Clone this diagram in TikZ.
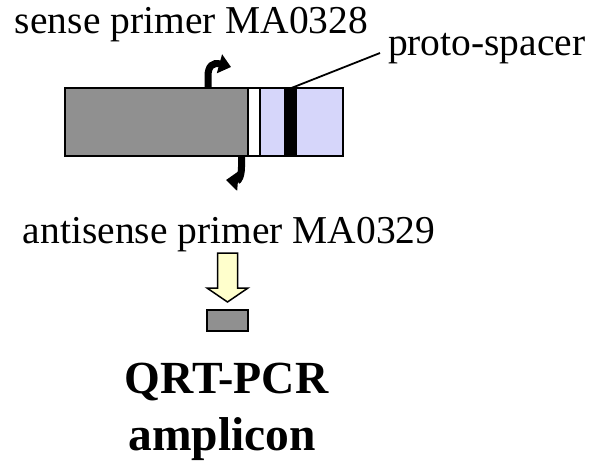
\documentclass[tikz,border=0pt]{standalone}
\usepackage{fontspec}
\setmainfont{Liberation Serif}
\usetikzlibrary{arrows.meta}
\definecolor{barGray}{HTML}{909090}
\definecolor{barBlue}{HTML}{D6D6FA}
\definecolor{arrYellow}{HTML}{FFFFCC}
\tikzset{
  seg/.style={draw=black, line width=1.5pt, inner sep=0pt, outer sep=0pt, minimum height=68pt},
  lbl/.style={inner sep=0pt, outer sep=0pt, anchor=base west, font=\fontsize{39.5}{44}\selectfont},
  big/.style={inner sep=0pt, outer sep=0pt, anchor=base, font=\fontsize{46}{50}\selectfont\bfseries},
  primer/.style={line width=7pt, -{Triangle[width=19pt,length=12pt]}},
}
\begin{document}
\begin{tikzpicture}[x=1pt,y=-1pt]
\useasboundingbox (0,0) rectangle (590,461);
% gene bar
\node[seg, fill=barGray, minimum width=183pt] (gray) at (156.5,122) {};
\node[seg, fill=white, minimum width=12pt] (gap) at (254,122) {};
\node[seg, fill=barBlue, minimum width=83pt] (blue) at (301.5,122) {};
\node[fill=black, inner sep=0pt, minimum width=13pt, minimum height=66.5pt] (spacer) at (290,122) {};
% labels
\node[lbl] (sense) at (15,33) {sense primer MA0328};
\node[lbl] (proto) at (388,55) {proto-spacer};
\node[lbl] (anti) at (23,243) {antisense primer MA0329};
\node[big] (qrt) at (226.5,393) {QRT-PCR};
\node[big, font=\fontsize{47.5}{52}\selectfont\bfseries] (amp) at (222,450) {amplicon};
% proto-spacer pointer
\coordinate (ptr) at (380,53);
\draw[line width=1.8pt] (spacer.north) -- (ptr);
% primer arrows
\coordinate (sStart) at (208,88);
\coordinate (sEnd) at (231,67);
\draw[primer] (sStart) -- (208,76) .. controls (208,66) and (213,62) .. (sEnd);
\coordinate (aStart) at (241.5,156);
\coordinate (aEnd) at (226,180);
\draw[primer] (aStart) -- (241.5,167) .. controls (241.5,177) and (238,181) .. (aEnd);
% block arrow and amplicon
\coordinate (dTip) at (227.5,302);
\draw[line width=1.5pt, fill=arrYellow, line join=miter]
  (217.5,253) -- (237.5,253) -- (237.5,288) -- (248,288) -- (dTip) -- (207,288) -- (217.5,288) -- cycle;
\node[draw=black, line width=1.5pt, fill=barGray, minimum width=41pt, minimum height=21pt, inner sep=0pt] (ampbox) at (227.5,320.5) {};
\end{tikzpicture}
\end{document}
